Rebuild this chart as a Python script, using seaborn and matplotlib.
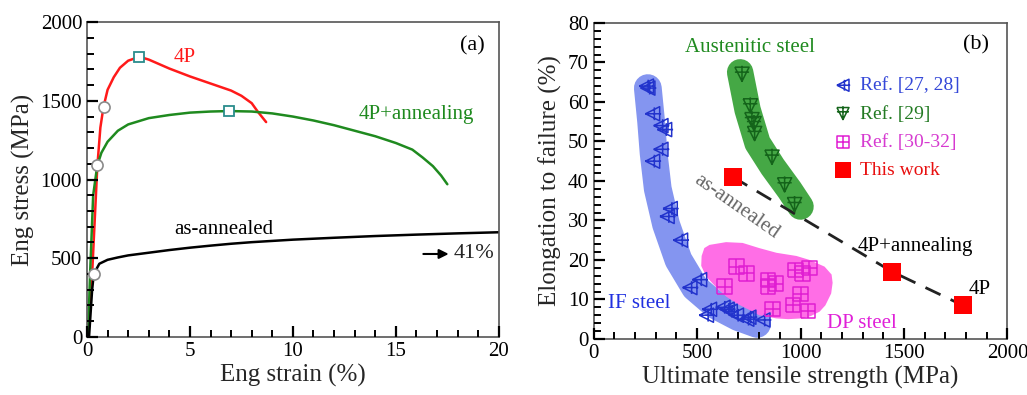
import numpy as np
import matplotlib
matplotlib.use("Agg")
import matplotlib.pyplot as plt
from matplotlib.path import Path
from matplotlib.ticker import MultipleLocator
import seaborn as sns

sns.set_style("ticks", {"xtick.direction": "in", "ytick.direction": "in"})
plt.rcParams['font.family'] = ['Liberation Serif', 'DejaVu Serif']

# ---- panel (a): stress-strain curves ----
strain_4p = [0.05, 0.25, 0.5, 0.65, 0.8, 1.0, 1.3, 1.6, 2.0, 2.55, 3.0, 4.0, 5.0, 6.0, 7.0, 7.5, 8.0, 8.3, 8.7]
stress_4p = [0, 400, 1080, 1330, 1460, 1570, 1650, 1710, 1755, 1780, 1762, 1705, 1655, 1610, 1565, 1532, 1485, 1430, 1365]

strain_4pa = [0.05, 0.15, 0.3, 0.5, 0.7, 1.0, 1.5, 2.0, 3.0, 4.0, 5.0, 6.0, 6.9, 8.0, 9.0, 10.0, 11.0, 12.0,
              13.0, 14.0, 15.0, 15.8, 16.3, 16.8, 17.2, 17.5]
stress_4pa = [0, 400, 900, 1090, 1170, 1240, 1310, 1350, 1390, 1410, 1425, 1432, 1435, 1432, 1420, 1400, 1375,
              1345, 1310, 1275, 1232, 1190, 1140, 1085, 1025, 970]

strain_ann = [0.1, 0.25, 0.33, 0.6, 1.0, 1.5, 2.0, 3.0, 4.0, 5.0, 6.0, 7.0, 8.0, 10.0, 12.0, 14.0, 16.0, 18.0, 20.0]
stress_ann = [0, 300, 400, 465, 490, 505, 518, 535, 552, 567, 580, 592, 602, 618, 630, 641, 650, 658, 665]

circ_strain = [0.83, 0.5, 0.33]
circ_stress = [1460, 1090, 400]
uts_strain = [2.55, 6.9]
uts_stress = [1780, 1435]

# ---- panel (b): UTS vs elongation ----
ref2728_uts = [255, 262, 285, 325, 343, 325, 285, 370, 355, 420, 465, 512, 545, 560, 625, 645, 660, 690, 740, 750, 818]
ref2728_el = [64, 63.5, 57, 54, 53, 48, 45, 33, 31, 25, 13, 15, 6, 7.5, 8, 7.5, 7, 6, 5, 5.5, 4.8]

ref29_uts = [717, 757, 765, 775, 778, 862, 923, 971]
ref29_el = [67, 59, 55.5, 54.5, 52, 46, 39, 34]

ref3032_uts = [633, 690, 740, 842, 842, 882, 865, 975, 1010, 1043, 1000, 963, 1037]
ref3032_el = [13.2, 18.3, 16.6, 14.9, 13.3, 14.0, 7.6, 17.5, 16.6, 17.9, 11.4, 8.6, 7.1]

this_uts = [673, 1443, 1784]
this_el = [41, 17, 8.5]

# shaded groups
if_band_uts = [262, 278, 290, 310, 350, 410, 490, 590, 700, 790]
if_band_el = [63.5, 55, 47, 38, 29, 20, 13, 8.5, 5.5, 3.8]
aus_band_uts = [708, 744, 792, 865, 947, 1000]
aus_band_el = [67.5, 58, 49.6, 43.6, 37.7, 33.5]
dp_blob_uts = [560, 640, 720, 800, 884, 980, 1043, 1116, 1150, 1155, 1148, 1120, 1092, 1050, 1011, 940, 882,
               800, 754, 690, 641, 590, 544, 520, 522, 535]
dp_blob_el = [23.8, 24.5, 24.3, 23.0, 21.8, 21.0, 20.0, 18.3, 16.3, 14.2, 11.5, 8.5, 6.9, 5.8, 5.2, 5.0, 5.2,
              6.0, 7.3, 9.0, 10.7, 13.2, 15.8, 18.5, 21.0, 23.0]


def cross_marker(kind):
    if kind == "left":
        verts = [(-1, 0), (1, 1), (1, -1), (-1, 0), (-1, 0), (1.2, 0), (0.25, -0.9), (0.25, 0.9)]
    elif kind == "down":
        verts = [(-1, 1), (1, 1), (0, -1), (-1, 1), (-1, 0.3), (1, 0.3), (0, 1.2), (0, -1)]
    else:
        verts = [(-1, -1), (1, -1), (1, 1), (-1, 1), (-1, -1), (-1, 0), (1, 0), (0, -1), (0, 1)]
    if kind == "square":
        codes = [Path.MOVETO, Path.LINETO, Path.LINETO, Path.LINETO, Path.LINETO,
                 Path.MOVETO, Path.LINETO, Path.MOVETO, Path.LINETO]
    else:
        codes = [Path.MOVETO, Path.LINETO, Path.LINETO, Path.LINETO,
                 Path.MOVETO, Path.LINETO, Path.MOVETO, Path.LINETO]
    return Path(verts, codes)


def style_axis(ax):
    ax.set_axisbelow(False)
    for s in ax.spines.values():
        s.set_color("#555555")
        s.set_linewidth(1.2)
    ax.tick_params(which="both", direction="in", bottom=True, left=True, top=False, right=False)
    ax.tick_params(which="major", length=8, width=1.6, color="black", labelsize=15, labelcolor="black")
    ax.tick_params(which="minor", length=5, width=1.4, color="black")


fig = plt.figure(figsize=(10.27, 3.95), dpi=100)
ax1 = fig.add_axes([0.0847, 0.147, 0.401, 0.797])
ax2 = fig.add_axes([0.578, 0.142, 0.403, 0.800])

# ---------- (a) ----------
sns.lineplot(x=strain_4p, y=stress_4p, sort=False, color="#ff1a1a", lw=1.8, ax=ax1)
sns.lineplot(x=strain_4pa, y=stress_4pa, sort=False, color="#1f8a1f", lw=1.8, ax=ax1)
sns.lineplot(x=strain_ann, y=stress_ann, sort=False, color="black", lw=1.8, ax=ax1)
ax1.plot(circ_strain, circ_stress, "o", ms=8, mfc="white", mec="#8a8a8a", mew=1.2, zorder=5)
ax1.plot(uts_strain, uts_stress, "s", ms=7, mfc="white", mec="#2a8c8c", mew=1.3, zorder=5)

ax1.set_xlim(0, 20)
ax1.set_ylim(0, 2000)
ax1.xaxis.set_major_locator(MultipleLocator(5))
ax1.xaxis.set_minor_locator(MultipleLocator(1))
ax1.yaxis.set_major_locator(MultipleLocator(500))
ax1.yaxis.set_minor_locator(MultipleLocator(100))
ax1.set_xlabel("Eng strain (%)", fontsize=18, labelpad=2)
ax1.set_ylabel("Eng stress (MPa)", fontsize=18, labelpad=4)

ax1.text(4.75, 1778, "4P", color="#ff1a1a", fontsize=15, ha="center", va="center")
ax1.text(16.0, 1410, "4P+annealing", color="#1f8a1f", fontsize=15, ha="center", va="center")
ax1.text(6.65, 685, "as-annealed", color="black", fontsize=15, ha="center", va="center")
ax1.text(18.7, 1850, "(a)", color="black", fontsize=16, ha="center", va="center")
ax1.annotate("", xy=(17.7, 527), xytext=(16.2, 527),
             arrowprops=dict(arrowstyle="-|>", color="black", lw=1.5, mutation_scale=14))
ax1.text(17.8, 527, "41%", fontsize=16, ha="left", va="center")

# ---------- (b) ----------
ax2.plot(if_band_uts, if_band_el, color="#7d8ff0", lw=20, alpha=0.95,
         solid_capstyle="round", solid_joinstyle="round", zorder=1)
ax2.plot(aus_band_uts, aus_band_el, color="#45a845", lw=19,
         solid_capstyle="round", solid_joinstyle="round", zorder=1)
ax2.fill(dp_blob_uts, dp_blob_el, color="#ff6ee6", lw=0, zorder=1)

sns.lineplot(x=this_uts, y=this_el, sort=False, color="#222222", lw=2, ax=ax2, zorder=2)
ax2.lines[-1].set_dashes([6, 4])

mk_blue = cross_marker("left")
mk_green = cross_marker("down")
mk_mag = cross_marker("square")
sns.scatterplot(x=ref2728_uts, y=ref2728_el, marker=mk_blue, s=150, facecolor="none",
                edgecolor="#2233cc", linewidth=1.1, ax=ax2, zorder=3, label="Ref. [27, 28]")
sns.scatterplot(x=ref29_uts, y=ref29_el, marker=mk_green, s=150, facecolor="none",
                edgecolor="#14641a", linewidth=1.1, ax=ax2, zorder=3, label="Ref. [29]")
sns.scatterplot(x=ref3032_uts, y=ref3032_el, marker=mk_mag, s=110, facecolor="none",
                edgecolor="#e01ed2", linewidth=1.1, ax=ax2, zorder=3, label="Ref. [30-32]")
sns.scatterplot(x=this_uts, y=this_el, marker="s", s=170, color="#ff0000", edgecolor="#ff0000",
                linewidth=0, ax=ax2, zorder=4, label="This work")

ax2.set_xlim(0, 2000)
ax2.set_ylim(0, 80)
ax2.xaxis.set_major_locator(MultipleLocator(500))
ax2.xaxis.set_minor_locator(MultipleLocator(100))
ax2.yaxis.set_major_locator(MultipleLocator(10))
ax2.yaxis.set_minor_locator(MultipleLocator(2))
ax2.set_xlabel("Ultimate tensile strength (MPa)", fontsize=18, labelpad=2)
ax2.set_ylabel("Elongation to failure (%)", fontsize=18, labelpad=4)

leg = ax2.legend(loc="upper left", bbox_to_anchor=(0.532, 0.885), frameon=False, fontsize=14,
                 handletextpad=0.3, labelspacing=0.55, handlelength=1.2, markerscale=0.85)
for txt, c in zip(leg.get_texts(), ["#3548d8", "#237a23", "#d63ad0", "#e81010"]):
    txt.set_color(c)

ax2.text(754, 73.7, "Austenitic steel", color="#1f8a1f", fontsize=15, ha="center", va="center")
ax2.text(222, 9, "IF steel", color="#2030e0", fontsize=15, ha="center", va="center")
ax2.text(1295, 4, "DP steel", color="#e020d8", fontsize=15, ha="center", va="center")
ax2.text(690, 33.5, "as-annealed", color="#666666", fontsize=15, ha="center", va="center", rotation=-35)
ax2.text(1556, 23.3, "4P+annealing", color="black", fontsize=15, ha="center", va="center")
ax2.text(1865, 12.4, "4P", color="black", fontsize=15, ha="center", va="center")
ax2.text(1850, 74.4, "(b)", color="black", fontsize=16, ha="center", va="center")

# tick styling applied last so nothing above can reset it
style_axis(ax1)
style_axis(ax2)

fig.savefig("out.png", dpi=100)
